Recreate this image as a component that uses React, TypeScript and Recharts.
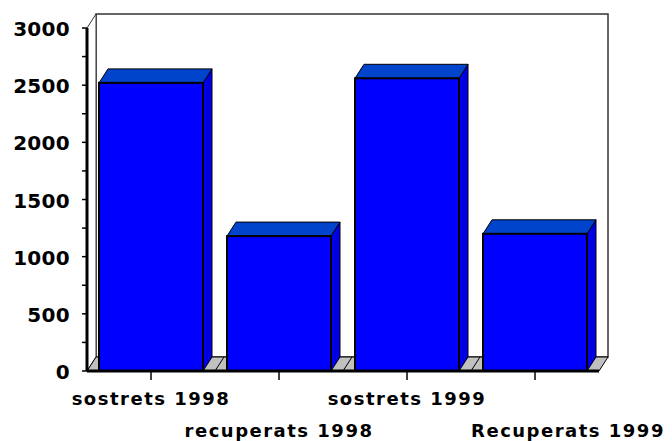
import { BarChart, Bar, XAxis, YAxis } from "recharts"

// categories + values
const categories = ["sostrets 1998", "recuperats 1998", "sostrets 1999", "Recuperats 1999"]
const values = [2520, 1180, 2560, 1200]
const yTicks = [0, 250, 500, 750, 1000, 1250, 1500, 1750, 2000, 2250, 2500, 2750, 3000]
const labelEvery = 500

const data = categories.map((name, i) => ({ name, value: values[i] }))

const W = 672
const H = 441
const MARGIN = { top: 28, right: 73, bottom: 0, left: 0 }
const Y_AXIS_W = 87
const X_AXIS_H = 70
// 3D depth offset
const DX = 9
const DY = 14

const FONT = "'DejaVu Sans', sans-serif"

const left = MARGIN.left + Y_AXIS_W
const right = W - MARGIN.right
const top = MARGIN.top
const bottom = H - MARGIN.bottom - X_AXIS_H

function Box3D(props: any) {
  const { x, y, width: w, height: h } = props
  if (!h || h <= 0) return null
  return (
    <g>
      <polygon
        points={`${x + w},${y} ${x + w + DX},${y - DY} ${x + w + DX},${y + h - DY} ${x + w},${y + h}`}
        fill="#0000e8"
        stroke="#000"
        strokeWidth={1}
      />
      <polygon
        points={`${x},${y} ${x + DX},${y - DY} ${x + w + DX},${y - DY} ${x + w},${y}`}
        fill="#0044cc"
        stroke="#000"
        strokeWidth={1}
      />
      <rect x={x} y={y} width={w} height={h} fill="#0000ff" stroke="#000" strokeWidth={2} />
    </g>
  )
}

function YTick(props: any) {
  const { x, y, payload } = props
  if (payload.value % labelEvery !== 0) return null
  return (
    <text x={x} y={y + 8} textAnchor="end" fontFamily={FONT} fontWeight="bold" fontSize={20} letterSpacing={0.3} fill="#000">
      {payload.value}
    </text>
  )
}

function XTick(props: any) {
  const { x, payload, index } = props
  const row = index % 2
  const shift = index === categories.length - 1 ? 33 : 0
  return (
    <text
      x={x + shift}
      y={bottom + (row ? 66 : 34)}
      textAnchor="middle"
      fontFamily={FONT}
      fontWeight="bold"
      fontSize={18}
      letterSpacing={1.5}
      fill="#000"
    >
      {payload.value}
    </text>
  )
}

function Backdrop() {
  const band = (right - left) / categories.length
  const dividers = categories.slice(1).map((_, i) => left + band * (i + 1))
  return (
    <svg width={W} height={H} style={{ position: "absolute", left: 0, top: 0 }}>
      {/* back wall */}
      <rect x={left + DX} y={top - DY} width={right - left} height={bottom - top} fill="#fff" stroke="#333" strokeWidth={1.5} />
      {/* side wall */}
      <polygon
        points={`${left},${top} ${left + DX},${top - DY} ${left + DX},${bottom - DY} ${left},${bottom}`}
        fill="#fff"
        stroke="#333"
        strokeWidth={1}
      />
      {/* floor */}
      <polygon
        points={`${left},${bottom} ${right},${bottom} ${right + DX},${bottom - DY} ${left + DX},${bottom - DY}`}
        fill="#c0c0c0"
        stroke="#000"
        strokeWidth={1}
      />
      {dividers.map((d, i) => (
        <line key={i} x1={d} y1={bottom} x2={d + DX} y2={bottom - DY} stroke="#000" strokeWidth={1} />
      ))}
    </svg>
  )
}

export default function App() {
  return (
    <div style={{ position: "absolute", left: 0, top: 0, width: W, height: H, background: "#fff" }}>
      <Backdrop />
      <div style={{ position: "absolute", left: 0, top: 0 }}>
        <BarChart width={W} height={H} data={data} margin={MARGIN}>
          <XAxis
            dataKey="name"
            height={X_AXIS_H}
            interval={0}
            tickSize={9}
            tickLine={{ stroke: "#000", strokeWidth: 1.5 }}
            axisLine={{ stroke: "#000", strokeWidth: 3 }}
            tick={<XTick />}
          />
          <YAxis
            width={Y_AXIS_W}
            domain={[0, 3000]}
            ticks={yTicks}
            interval={0}
            tickSize={5}
            tickMargin={12}
            tickLine={{ stroke: "#000", strokeWidth: 1.5 }}
            axisLine={{ stroke: "#000", strokeWidth: 3 }}
            tick={<YTick />}
          />
          <Bar dataKey="value" barSize={104} shape={<Box3D />} isAnimationActive={false} />
        </BarChart>
      </div>
    </div>
  )
}
